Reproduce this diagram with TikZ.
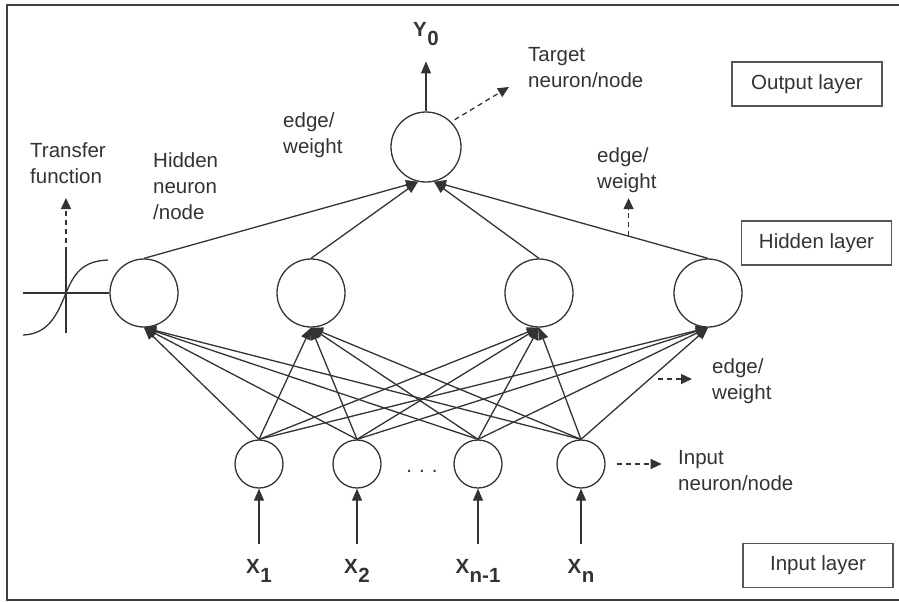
\documentclass[tikz,border=0pt]{standalone}
\usepackage{fontspec}
\setmainfont{Liberation Sans}
\usetikzlibrary{arrows.meta,positioning,calc}
\definecolor{ink}{HTML}{333333}
\definecolor{edgegray}{HTML}{555555}
\newcommand{\varsub}[2]{\textbf{#1\hspace{0.5pt}\raisebox{-9pt}{#2}}}

\begin{document}
\begin{tikzpicture}[x=1pt,y=-1pt,
  neuron/.style={draw=ink,circle,line width=1.3pt,inner sep=0pt},
  txt/.style={text=ink,font=\fontsize{20.5}{26}\selectfont,align=left,inner sep=0pt,anchor=north west},
  var/.style={text=ink,font=\fontsize{20.5}{24}\selectfont,inner sep=0pt},
  layerbox/.style={draw=edgegray,line width=1.5pt,minimum width=150pt,minimum height=44pt,text=ink,font=\fontsize{20.5}{24}\selectfont},
  arr/.style={-{Triangle[length=12pt,width=10pt]},line width=1.3pt,draw=ink},
  darr/.style={-{Triangle[length=11pt,width=10pt]},dash pattern=on 5pt off 4pt,line width=1.3pt,draw=ink}]
\useasboundingbox (0,0) rectangle (899,602);
\draw[line width=2.2pt,black!75] (899,5) -- (7,5) -- (7,600) -- (899,600);
\node[neuron,minimum size=70pt] (o) at (426,147) {};
\node[neuron,minimum size=68pt] (h1) at (144,293) {};
\node[neuron,minimum size=68pt] (h2) at (311,293) {};
\node[neuron,minimum size=68pt] (h3) at (539,293) {};
\node[neuron,minimum size=68pt] (h4) at (708,293) {};
\node[neuron,minimum size=48pt] (i1) at (259,464) {};
\node[neuron,minimum size=48pt] (i2) at (357,464) {};
\node[neuron,minimum size=48pt] (i3) at (478,464) {};
\node[neuron,minimum size=48pt] (i4) at (581,464) {};
\node[var] (dots) at (422,471) {.\hspace{7pt}.\hspace{7pt}.};
\node[var,anchor=base] (x1) at (259,573) {\varsub{X}{1}};
\node[var,anchor=base] (x2) at (357,573) {\varsub{X}{2}};
\node[var,anchor=base] (x3) at (478,573) {\varsub{X}{n-1}};
\node[var,anchor=base] (x4) at (581,573) {\varsub{X}{n}};
\node[var,anchor=base] (y0) at (426,37) {\varsub{Y}{0}};
\node[txt] (tf) at (30,142) {Transfer\\function};
\node[txt] (hn) at (153,152) {Hidden\\neuron\\/node};
\node[txt] (ew1) at (283,112) {edge/\\weight};
\node[txt] (tn) at (528,47) {Target\\neuron/node};
\node[txt] (ew2) at (597,147) {edge/\\weight};
\node[txt] (ew3) at (712,358) {edge/\\weight};
\node[txt] (in) at (678,450) {Input\\neuron/node};
\node[layerbox] (ol) at (807,84) {Output layer};
\node[layerbox] (hl) at (816.5,243) {Hidden layer};
\node[layerbox] (il) at (818,565.5) {Input layer};
\foreach \k in {1,...,4} {
  \draw[arr,shorten <=14.5pt] (x\k) -- (i\k);
  \foreach \j in {1,...,4} \draw[arr] (i\k.north) -- (h\j.south);
}
\foreach \j/\a in {1/257,2/257,3/283} \draw[arr] (h\j.north) -- (o.\a);
\draw[arr] (h4.north) -- coordinate[pos=0.29] (e2) (o.283);
\draw[arr,shorten >=15pt] (o) -- (y0);
\coordinate (ax0) at (23,293);
\coordinate (axb) at (66,333);
\coordinate (axt) at (66,252);
\coordinate (e3) at (658,379);
\draw[ink,line width=1.3pt] (ax0) -- (h1.west);
\draw[ink,line width=1.3pt] (axb) -- (axt);
\draw[ink,line width=1.3pt] (23,335) .. controls (50,334) and (58,312) .. (66,293) .. controls (74,274) and (82,261) .. (108,260);
\draw[darr] (axt) -- ++(0,-54);
\draw[darr,shorten <=4pt] (o.45) -- (509,87);
\draw[darr] (e2) -- ++(0,-38);
\draw[darr] (e3) -- ++(34,0);
\draw[darr,shorten <=11pt] (i4.east) -- ++(56,0);
\end{tikzpicture}
\end{document}
